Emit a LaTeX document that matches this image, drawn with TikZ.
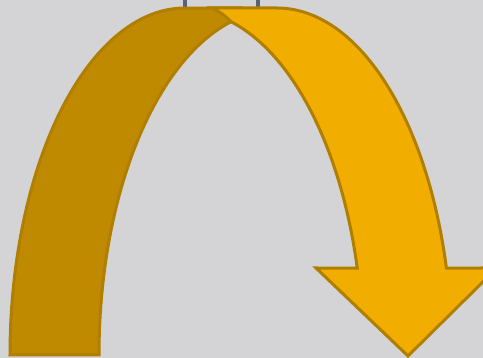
\documentclass[tikz,border=0pt]{standalone}
\definecolor{bgc}{RGB}{212,212,214}
\definecolor{backgold}{RGB}{191,138,0}
\definecolor{frontgold}{RGB}{241,173,0}
\definecolor{rimgold}{RGB}{176,127,0}
\definecolor{tickgrey}{RGB}{88,98,118}
\tikzset{
  bandback/.style={fill=backgold, draw=rimgold, line width=3pt, line join=miter},
  bandfront/.style={fill=frontgold, draw=rimgold, line width=3pt, line join=miter},
  tickline/.style={draw=tickgrey, line width=3.5pt}
}
\begin{document}
\begin{tikzpicture}[x=1pt,y=-1pt]
\useasboundingbox (0,0) rectangle (483,358);
\clip (0,0) rectangle (483,358);
\fill[bgc] (0,0) rectangle (483,358);
% small grey ticks at the top
\coordinate (t1a) at (185,0); \coordinate (t1b) at (185,10);
\coordinate (t2a) at (258,0); \coordinate (t2b) at (258,10);
\draw[tickline] (t1a) -- (t1b);
\draw[tickline] (t2a) -- (t2b);
% back (darker) band: outer ellipse centred (185,355), inner ellipse centred (277,355)
\coordinate (cusp) at (231,21.7);
\coordinate (tailtop) at (212,8);
\path[bandback]
  plot[domain=180:90, samples=80, variable=\t] ({185+175*cos(\t)}, {355-347*sin(\t)})
  -- (240,8) -- (cusp)
  -- plot[domain=104.97:180, samples=80, variable=\t] ({277+178*cos(\t)}, {355-345*sin(\t)})
  -- cycle;
% front (brighter) band with arrow head
\path[bandfront] (tailtop) -- (277,8)
  -- plot[domain=90:14.52, samples=80, variable=\t] ({277+175*cos(\t)}, {355-347*sin(\t)})
  -- (497,268) -- (408,356) -- (316,268)
  -- plot[domain=14.6:75.03, samples=80, variable=\t] ({185+178*cos(\t)}, {355-345*sin(\t)})
  .. controls (223,14) .. (tailtop)
  -- cycle;
\end{tikzpicture}
\end{document}
